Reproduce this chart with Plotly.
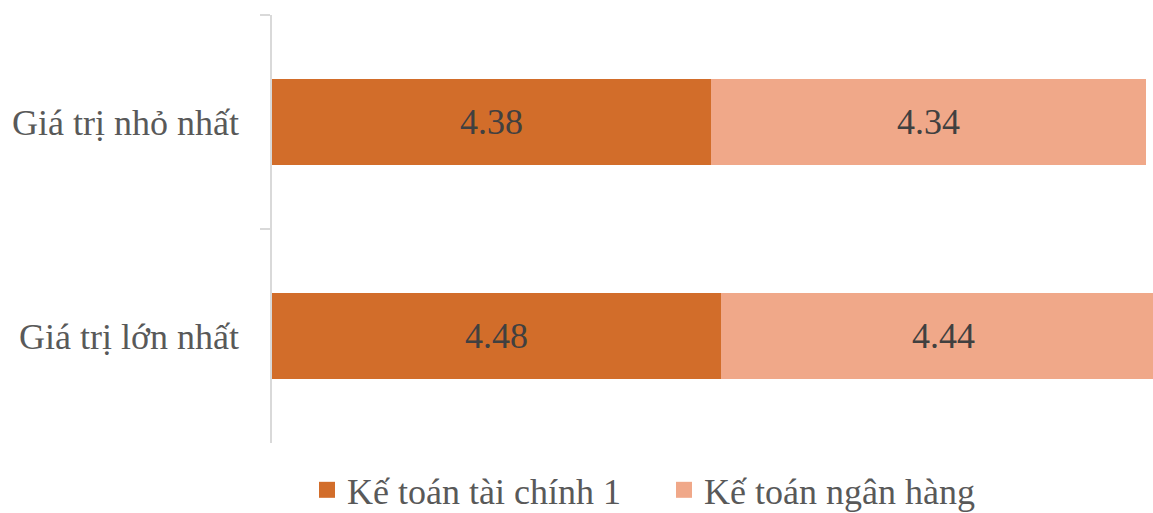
import plotly.graph_objects as go

categories = ["Giá trị nhỏ nhất", "Giá trị lớn nhất"]
ke_toan_tai_chinh = [4.38, 4.48]
ke_toan_ngan_hang = [4.34, 4.44]
series_names = ["Kế toán tài chính 1", "Kế toán ngân hàng"]
colors = ["#D26D2A", "#F0A889"]

SERIF = "Liberation Serif"
FS = 36

fig = go.Figure()
for vals, name, col in zip([ke_toan_tai_chinh, ke_toan_ngan_hang], series_names, colors):
    fig.add_trace(go.Bar(
        y=categories, x=vals, name=name, orientation="h", showlegend=False,
        legendgroup=name, marker=dict(color=col, line=dict(width=0)),
        text=[f"{v:.2f}" for v in vals], textposition="inside",
        insidetextanchor="middle", textfont=dict(family=SERIF, size=FS, color="#404040"),
    ))
# legend-only entries so the square can be bigger than the bar default
for name, col in zip(series_names, colors):
    fig.add_trace(go.Scatter(
        x=[None], y=[None], mode="markers", name=name, legendgroup=name,
        marker=dict(symbol="square", size=16, color=col),
    ))

fig.update_layout(
    barmode="stack", bargap=0.6,
    width=1153, height=513,
    margin=dict(l=272, r=0, t=15, b=70, autoexpand=False),
    paper_bgcolor="white", plot_bgcolor="white",
    font=dict(family=SERIF, size=FS, color="#595959"),
    uniformtext=dict(mode="show", minsize=10),
    legend=dict(orientation="h", x=307 / 1153, xanchor="left", xref="container",
                y=0.045, yanchor="middle", yref="container",
                font=dict(family=SERIF, size=FS, color="#595959"),
                itemwidth=30, entrywidth=312, traceorder="normal"),
    showlegend=True,
)
fig.update_xaxes(range=[0, 8.79], visible=False)
fig.update_yaxes(
    categoryorder="array", categoryarray=categories, autorange="reversed",
    showline=True, linecolor="#d9d9d9", linewidth=1.5,
    ticks="outside", tickson="boundaries", ticklen=10, tickcolor="#d9d9d9",
    tickwidth=1.5, ticklabelstandoff=24, showgrid=False,
    tickfont=dict(family=SERIF, size=FS, color="#595959"),
)

fig.write_html("out.html", config={"displayModeBar": False},
               post_script="document.body.style.margin='0';")
